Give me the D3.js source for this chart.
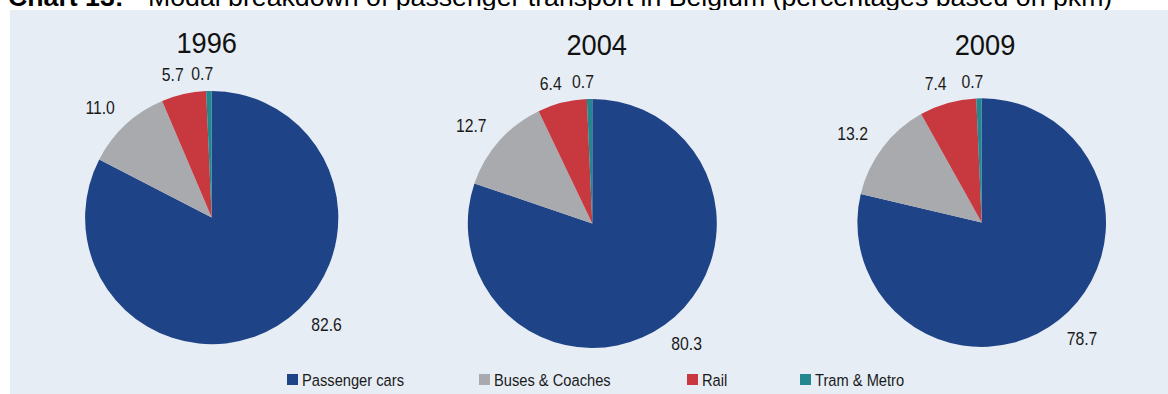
<!DOCTYPE html>
<html>
<head>
<meta charset="utf-8">
<script src="https://cdn.jsdelivr.net/npm/d3@7"></script>
<style>
  html, body { margin: 0; padding: 0; background: #ffffff; }
  svg { display: block; }
  text { font-family: "Liberation Sans", Arial, sans-serif; }
</style>
</head>
<body>
<svg id="chart" width="1168" height="394"></svg>
<script>
// Modal breakdown of passenger transport in Belgium, shares of pkm (%)
const years = ["1996", "2004", "2009"];
const modes = ["Passenger cars", "Buses & Coaches", "Rail", "Tram & Metro"];
const share1996 = [82.6, 11.0, 5.7, 0.7];
const share2004 = [80.3, 12.7, 6.4, 0.7];
const share2009 = [78.7, 13.2, 7.4, 0.7];
const shares = [share1996, share2004, share2009];

const modeColors = ["#1f4387", "#a9aaae", "#c8383f", "#24878f"];

// geometry of the three pies
const panels = [
  { cx: 211.7, cy: 217.6, r: 126.6, titleX: 206.7, titleY: 53, firstLabelTurn: -13.1 },
  { cx: 592.3, cy: 223.5, r: 124.5, titleX: 596.7, titleY: 55, firstLabelTurn: 0 },
  { cx: 981.7, cy: 222.6, r: 124.3, titleX: 985.0, titleY: 55, firstLabelTurn: 0 }
];
const legendX = [287, 479, 687, 800];

const svg = d3.select("#chart");

// heading above the panel
const heading = svg.append("text").attr("x", 8).attr("y", 6)
  .attr("font-size", 26.7).attr("fill", "#000");
heading.append("tspan").attr("font-weight", "bold").text("Chart 13:");
heading.append("tspan").attr("x", 148)
  .text("Modal breakdown of passenger transport in Belgium (percentages based on pkm)");

// light panel
svg.append("rect").attr("x", 10).attr("y", 10).attr("width", 1158).attr("height", 384)
  .attr("fill", "#e6edf5");

const color = d3.scaleOrdinal().domain(modes).range(modeColors);
const pie = d3.pie().sort(null).value(d => d.value).startAngle(0).endAngle(2 * Math.PI);
const deg = Math.PI / 180;

years.forEach((yr, i) => {
  const p = panels[i];
  const data = modes.map((m, j) => ({ mode: m, value: shares[i][j] }));
  const arcs = pie(data);
  const arc = d3.arc().innerRadius(0).outerRadius(p.r);

  const g = svg.append("g").attr("transform", `translate(${p.cx},${p.cy})`);
  g.selectAll("path").data(arcs).join("path")
    .attr("d", arc)
    .attr("fill", d => color(d.data.mode));

  // value labels just outside each slice
  g.selectAll("text.val").data(arcs).join("text")
    .attr("class", "val")
    .attr("transform", (d, j) => {
      let phi = (d.startAngle + d.endAngle) / 2 - 2.5 * deg;
      if (j === 0) phi += p.firstLabelTurn * deg;
      const dist = p.r + 16 + 20 * Math.abs(Math.sin(phi));
      const x = dist * Math.sin(phi);
      const y = -dist * Math.cos(phi) + 6.5;
      return `translate(${x},${y}) scale(0.9,1)`;
    })
    .attr("text-anchor", "middle")
    .attr("font-size", 17.5)
    .attr("fill", "#1a1a1a")
    .text(d => d3.format(".1f")(d.data.value));

  // year title
  svg.append("text")
    .attr("transform", `translate(${p.titleX},${p.titleY}) scale(0.93,1)`)
    .attr("text-anchor", "middle")
    .attr("font-size", 29.3)
    .attr("fill", "#111")
    .text(yr);
});

// legend
const leg = svg.append("g");
modes.forEach((m, j) => {
  leg.append("rect").attr("x", legendX[j]).attr("y", 374).attr("width", 11).attr("height", 11)
    .attr("fill", color(m));
  leg.append("text")
    .attr("transform", `translate(${legendX[j] + 15},386) scale(0.89,1)`)
    .attr("font-size", 16.5)
    .attr("fill", "#1a1a1a")
    .text(m);
});
</script>
</body>
</html>
